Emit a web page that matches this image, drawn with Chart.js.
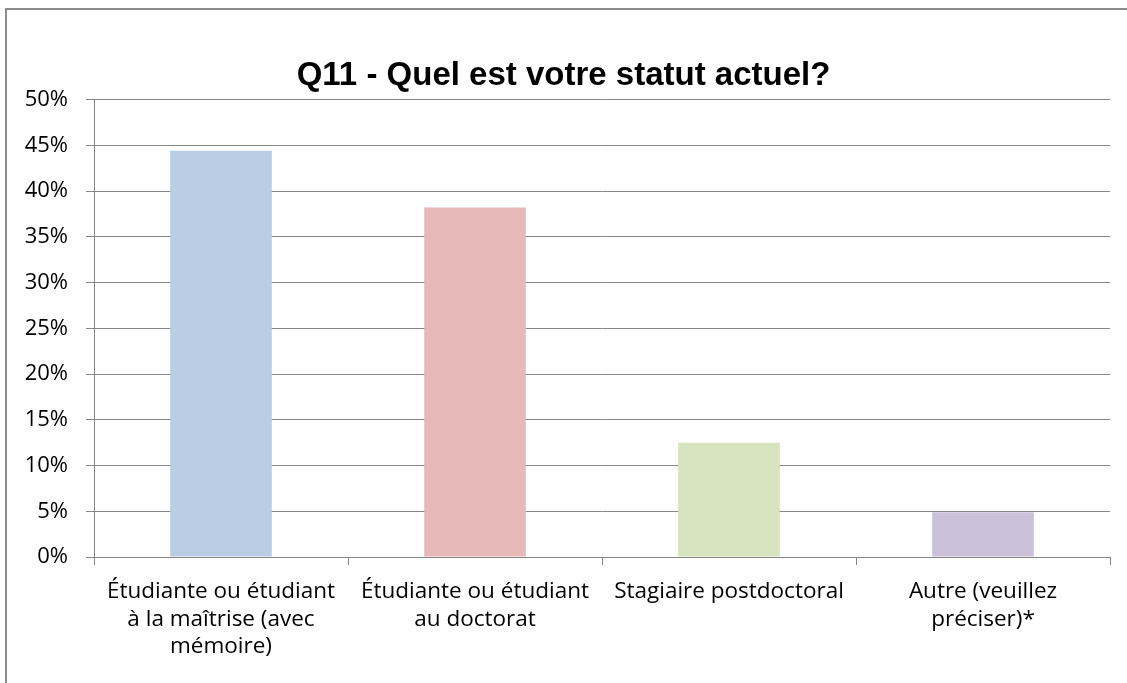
<!DOCTYPE html>
<html>
<head>
<meta charset="utf-8">
<script src="https://cdn.jsdelivr.net/npm/chart.js@4"></script>
<style>
  html, body { margin: 0; padding: 0; background: #fff; overflow: hidden; }
  #wrap { position: relative; width: 1127px; height: 683px; }
</style>
</head>
<body>
<div id="wrap"><canvas id="c" width="1127" height="683"></canvas></div>
<script>
const titleText = "Q11 - Quel est votre statut actuel?";
const categories = [
  ["Étudiante ou étudiant", "à la maîtrise (avec", "mémoire)"],
  ["Étudiante ou étudiant", "au doctorat"],
  ["Stagiaire postdoctoral"],
  ["Autre (veuillez", "préciser)*"]
];
const values = [44.4, 38.2, 12.5, 4.9];
const barColors = ["#B9CDE5", "#E6B9B8", "#D7E4BD", "#CCC1DA"];
const yMin = 0, yMax = 50, yStep = 5;

const frame = {
  id: 'frame',
  beforeDraw(chart) {
    const ctx = chart.ctx;
    ctx.save();
    ctx.fillStyle = '#fff';
    ctx.fillRect(0, 0, chart.width, chart.height);
    ctx.fillStyle = '#8c8c8c';
    ctx.fillRect(5, 8, chart.width, 2);
    ctx.fillRect(5, 8, 2, chart.height);
    ctx.restore();
  }
};

new Chart(document.getElementById('c'), {
  type: 'bar',
  data: {
    labels: categories,
    datasets: [{
      data: values,
      backgroundColor: barColors,
      borderWidth: 0,
      categoryPercentage: 1,
      barPercentage: 0.4
    }]
  },
  options: {
    responsive: false,
    animation: false,
    devicePixelRatio: 1,
    layout: { padding: 0 },
    plugins: {
      legend: { display: false },
      tooltip: { enabled: false },
      title: {
        display: true,
        text: titleText,
        color: '#000',
        font: { family: '"Liberation Sans", Arial, sans-serif', size: 33, weight: 'bold', lineHeight: 1.2 },
        padding: { top: 56, bottom: 4 }
      }
    },
    scales: {
      x: {
        grid: { display: true, drawOnChartArea: false, drawTicks: true, tickLength: 8, offset: true, color: '#868686', lineWidth: 1 },
        border: { display: true, color: '#868686', width: 1 },
        ticks: {
          color: '#000',
          font: { family: '"Open Sans", sans-serif', size: 22.5, lineHeight: 1.22 },
          padding: 13,
          maxRotation: 0,
          autoSkip: false
        },
        afterFit(s) { s.height = 126; }
      },
      y: {
        min: yMin, max: yMax,
        grid: { color: '#868686', lineWidth: 1, tickLength: 8, drawTicks: true },
        border: { display: true, color: '#868686', width: 1 },
        ticks: {
          stepSize: yStep,
          color: '#000',
          font: { family: '"Open Sans", sans-serif', size: 22 },
          padding: 18,
          callback: v => v + '%'
        },
        afterFit(s) { s.width = 94; }
      },
      yRight: {
        position: 'right',
        min: yMin, max: yMax,
        grid: { display: false },
        border: { display: false },
        ticks: { display: false },
        afterFit(s) { s.width = 17; }
      }
    }
  },
  plugins: [frame]
});
</script>
</body>
</html>
